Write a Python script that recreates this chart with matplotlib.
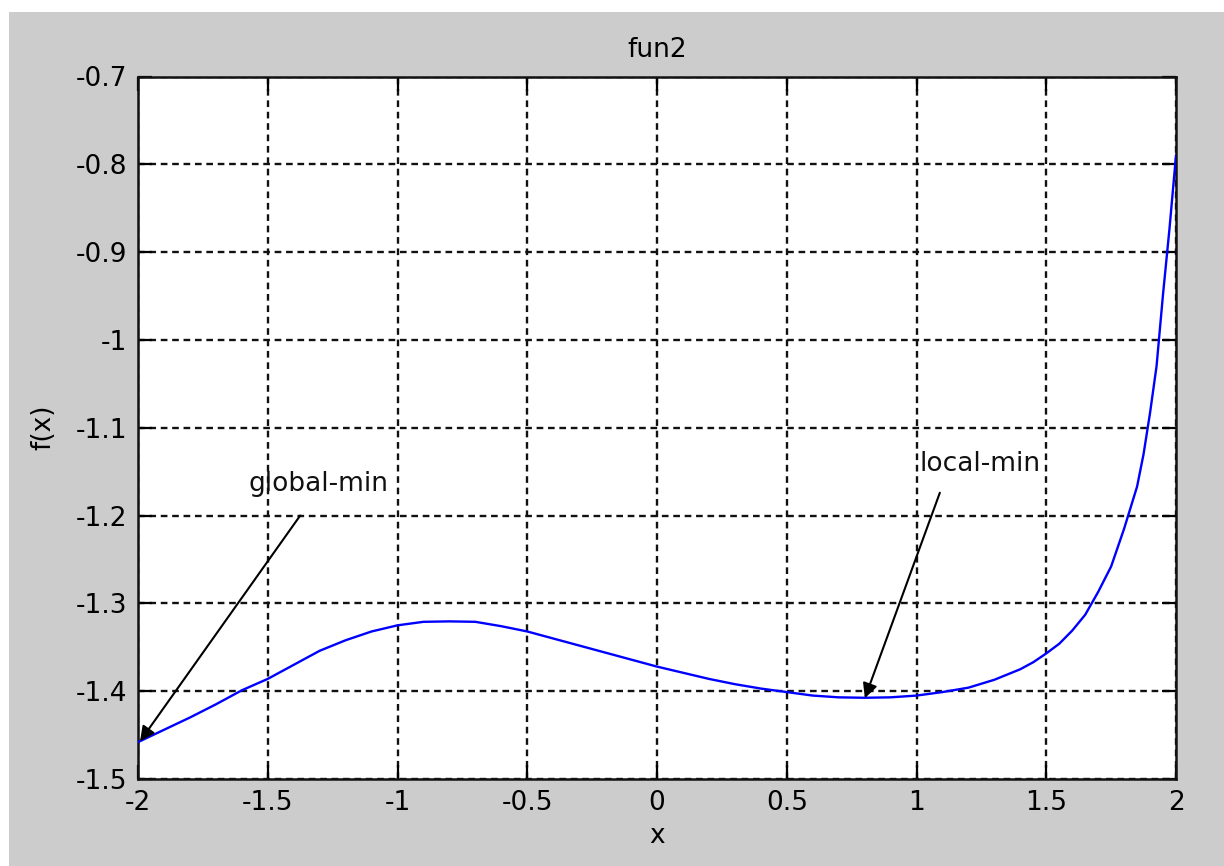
import matplotlib
matplotlib.use("Agg")
import matplotlib.pyplot as plt
from matplotlib.patches import Rectangle

# ---- data ----
x_vals = [-2.0, -1.9, -1.8, -1.7, -1.6, -1.5, -1.4, -1.3, -1.2, -1.1,
          -1.0, -0.9, -0.8, -0.7, -0.6, -0.5, -0.4, -0.3, -0.2, -0.1,
          0.0, 0.1, 0.2, 0.3, 0.4, 0.5, 0.6, 0.7, 0.8, 0.9,
          1.0, 1.1, 1.2, 1.3, 1.4, 1.45, 1.5, 1.55, 1.6, 1.65, 1.7, 1.75, 1.8,
          1.85, 1.875, 1.9, 1.925, 1.95, 1.975, 2.0]
y_vals = [-1.458, -1.444, -1.430, -1.415, -1.399, -1.386, -1.370, -1.354, -1.342, -1.332,
          -1.325, -1.321, -1.3205, -1.321, -1.326, -1.332, -1.340, -1.348, -1.356, -1.364,
          -1.372, -1.379, -1.386, -1.392, -1.397, -1.401, -1.405, -1.407, -1.4075, -1.407,
          -1.405, -1.401, -1.396, -1.387, -1.375, -1.367, -1.357, -1.346, -1.331, -1.313, -1.287, -1.258, -1.215,
          -1.167, -1.130, -1.083, -1.030, -0.948, -0.873, -0.790]

x_ticks = [-2, -1.5, -1, -0.5, 0, 0.5, 1, 1.5, 2]
x_tick_labels = ["-2", "-1.5", "-1", "-0.5", "0", "0.5", "1", "1.5", "2"]
y_ticks = [-1.5, -1.4, -1.3, -1.2, -1.1, -1.0, -0.9, -0.8, -0.7]
y_tick_labels = ["-1.5", "-1.4", "-1.3", "-1.2", "-1.1", "-1", "-0.9", "-0.8", "-0.7"]

annot_labels = ["global-min", "local-min"]
annot_text_xy = [(-1.576, -1.164), (1.013, -1.1415)]
annot_tail_xy = [(-1.375, -1.2), (1.09, -1.174)]
annot_head_xy = [(-1.992, -1.457), (0.801, -1.408)]

# ---- figure ----
plt.rcParams['font.family'] = ['DejaVu Sans']
plt.rcParams['lines.scale_dashes'] = False
FS = 19

fig = plt.figure(figsize=(12.24, 8.66), dpi=100, facecolor='white')
fig.patches.append(Rectangle((9 / 1224, 0), 1 - 9 / 1224, 1 - 12 / 866,
                             transform=fig.transFigure, facecolor='#cccccc',
                             edgecolor='none', zorder=-10))

ax = fig.add_axes([138 / 1224, 1 - 779 / 866, (1176 - 138) / 1224, (779 - 76.5) / 866])
ax.set_facecolor('white')

ax.plot(x_vals, y_vals, color='#0000ff', lw=1.7, zorder=3)

ax.set_xlim(-2, 2)
ax.set_ylim(-1.5, -0.7)
ax.set_xticks(x_ticks)
ax.set_xticklabels(x_tick_labels)
ax.set_yticks(y_ticks)
ax.set_yticklabels(y_tick_labels)

ax.grid(True, color='#111111', linestyle=(0, (4.8, 3.4)), linewidth=1.7)
ax.tick_params(direction='in', length=10, width=1.6, top=True, right=True,
               labelsize=FS, colors='black', pad=8)
for s in ax.spines.values():
    s.set_linewidth(1.8)
    s.set_color('#111111')

ax.set_title("fun2", fontsize=FS, pad=14)
ax.set_xlabel("x", fontsize=FS, labelpad=5)
ax.set_ylabel("f(x)", fontsize=FS, labelpad=14)

for lab, txy, tail, head in zip(annot_labels, annot_text_xy, annot_tail_xy, annot_head_xy):
    ax.text(txy[0], txy[1], lab, fontsize=FS, ha='left', va='center', zorder=4,
            color='#111111')
    ax.annotate("", xy=head, xytext=tail,
                arrowprops=dict(arrowstyle='-|>', color='black', lw=1.5,
                                mutation_scale=22, shrinkA=0, shrinkB=0),
                zorder=4)

fig.savefig("out.png", dpi=100, facecolor=fig.get_facecolor())
